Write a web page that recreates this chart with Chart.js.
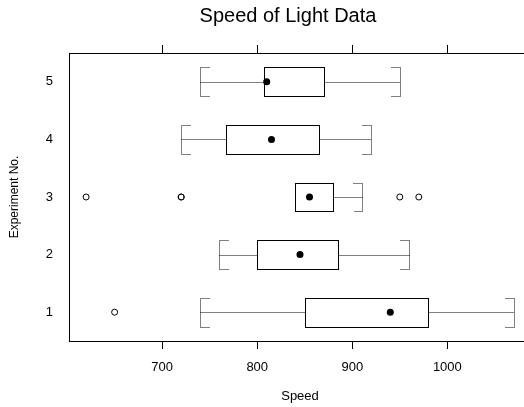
<!DOCTYPE html>
<html>
<head>
<meta charset="utf-8">
<script src="https://cdn.jsdelivr.net/npm/chart.js@4/dist/chart.umd.min.js"></script>
<style>
    html, body { margin: 0; padding: 0; background: #fff; overflow: hidden; }
    #wrap { width: 524px; height: 407px; overflow: hidden; }
</style>
</head>
<body>
<div id="wrap"><canvas id="chart" width="576" height="407"></canvas></div>
<script>
// Datos (Michelson, velocidad de la luz)
const experiments = [1, 2, 3, 4, 5];
const lowerWhisker = [740, 760, 840, 720, 740];
const lowerHinge = [850, 800, 840, 767.5, 807.5];
const medians = [940, 845, 855, 815, 810];
const upperHinge = [980, 885, 880, 865, 870];
const upperWhisker = [1070, 960, 910, 920, 950];
const outlierExpt = [1, 3, 3, 3, 3, 3];
const outlierSpeed = [650, 620, 720, 720, 950, 970];
const xTicks = [700, 800, 900, 1000];

const FONT = 'Liberation Sans, Arial, Helvetica, sans-serif';

// Cajas, bigotes y marco dibujados con las escalas de Chart.js
const boxPlugin = {
    id: 'boxes',
    beforeDatasetsDraw(chart) {
        const ctx = chart.ctx;
        const xs = chart.scales.x;
        const ys = chart.scales.y;
        const area = chart.chartArea;
        const half = 0.25;
        const stub = 9;

        ctx.save();
        // marco del panel
        ctx.strokeStyle = '#000';
        ctx.lineWidth = 1;
        ctx.setLineDash([]);
        ctx.strokeRect(Math.round(area.left) + 0.5, Math.round(area.top) + 0.5,
            Math.round(area.right - area.left), Math.round(area.bottom - area.top));

        experiments.forEach((e, i) => {
            const yTop = Math.round(ys.getPixelForValue(e + half)) + 0.5;
            const yBot = Math.round(ys.getPixelForValue(e - half)) + 0.5;
            const yMid = Math.round(ys.getPixelForValue(e)) + 0.5;
            const xLw = Math.round(xs.getPixelForValue(lowerWhisker[i])) + 0.5;
            const xLh = Math.round(xs.getPixelForValue(lowerHinge[i])) + 0.5;
            const xUh = Math.round(xs.getPixelForValue(upperHinge[i])) + 0.5;
            const xUw = Math.round(xs.getPixelForValue(upperWhisker[i])) + 0.5;

            // bigotes punteados
            ctx.strokeStyle = '#000';
            ctx.setLineDash([1, 1]);
            ctx.beginPath();
            ctx.moveTo(xLw, yMid); ctx.lineTo(xLh, yMid);
            ctx.moveTo(xUh, yMid); ctx.lineTo(xUw, yMid);
            // corchetes
            ctx.moveTo(xLw + stub, yTop); ctx.lineTo(xLw, yTop); ctx.lineTo(xLw, yBot); ctx.lineTo(xLw + stub, yBot);
            ctx.moveTo(xUw - stub, yTop); ctx.lineTo(xUw, yTop); ctx.lineTo(xUw, yBot); ctx.lineTo(xUw - stub, yBot);
            ctx.stroke();

            // caja
            ctx.setLineDash([]);
            ctx.strokeStyle = '#000';
            ctx.fillStyle = '#fff';
            ctx.fillRect(xLh, yTop, xUh - xLh, yBot - yTop);
            ctx.strokeRect(xLh, yTop, xUh - xLh, yBot - yTop);
        });
        ctx.restore();
    }
};

const tickList = (values) => (scale) => {
    scale.ticks = values.map(v => ({ value: v }));
};

new Chart(document.getElementById('chart'), {
    type: 'scatter',
    data: {
        datasets: [
            {
                label: 'Mediana',
                data: experiments.map((e, i) => ({ x: medians[i], y: e })),
                pointRadius: 3.5,
                pointBackgroundColor: '#000',
                pointBorderColor: '#000',
                pointBorderWidth: 0
            },
            {
                label: 'Atípicos',
                data: outlierExpt.map((e, i) => ({ x: outlierSpeed[i], y: e })),
                pointRadius: 3,
                pointBackgroundColor: 'rgba(0,0,0,0)',
                pointBorderColor: '#000',
                pointBorderWidth: 1
            }
        ]
    },
    options: {
        responsive: false,
        animation: false,
        events: [],
        layout: { padding: 0 },
        plugins: {
            legend: { display: false },
            tooltip: { enabled: false },
            title: {
                display: true,
                text: 'Speed of Light Data',
                color: '#000',
                font: { family: FONT, size: 20, weight: 'normal' },
                padding: { top: 4, bottom: 0 }
            }
        },
        scales: {
            x: {
                type: 'linear',
                position: 'bottom',
                min: 602,
                max: 1088,
                afterBuildTicks: tickList(xTicks),
                afterFit: (s) => { s.height = 66; },
                border: { display: false },
                grid: { drawOnChartArea: false, drawTicks: true, tickLength: 8, color: '#000', lineWidth: 1 },
                ticks: {
                    color: '#000',
                    padding: 11,
                    maxRotation: 0,
                    font: { family: FONT, size: 13 },
                    callback: (v) => String(v)
                },
                title: {
                    display: true,
                    text: 'Speed',
                    color: '#000',
                    font: { family: FONT, size: 13 },
                    padding: { top: 0, bottom: 3 }
                }
            },
            x2: {
                type: 'linear',
                position: 'top',
                min: 602,
                max: 1088,
                afterBuildTicks: tickList(xTicks),
                afterFit: (s) => { s.height = 25; },
                border: { display: false },
                grid: { drawOnChartArea: false, drawTicks: true, tickLength: 8, color: '#000', lineWidth: 1 },
                ticks: { display: false }
            },
            y: {
                type: 'linear',
                min: 0.5,
                max: 5.5,
                afterBuildTicks: tickList(experiments),
                afterFit: (s) => { s.width = 69; },
                border: { display: false },
                grid: { display: false },
                ticks: {
                    color: '#000',
                    padding: 8,
                    font: { family: FONT, size: 13 },
                    callback: (v) => String(v)
                },
                title: {
                    display: true,
                    text: 'Experiment No.',
                    color: '#000',
                    font: { family: FONT, size: 12 },
                    padding: { top: 7, bottom: 0 }
                }
            },
            // margen derecho vacío (recortado por la ventana)
            yRight: {
                type: 'linear',
                position: 'right',
                min: 0.5,
                max: 5.5,
                afterFit: (s) => { s.width = 45; },
                border: { display: false },
                grid: { display: false },
                ticks: { display: false }
            }
        }
    },
    plugins: [boxPlugin]
});
</script>
</body>
</html>
